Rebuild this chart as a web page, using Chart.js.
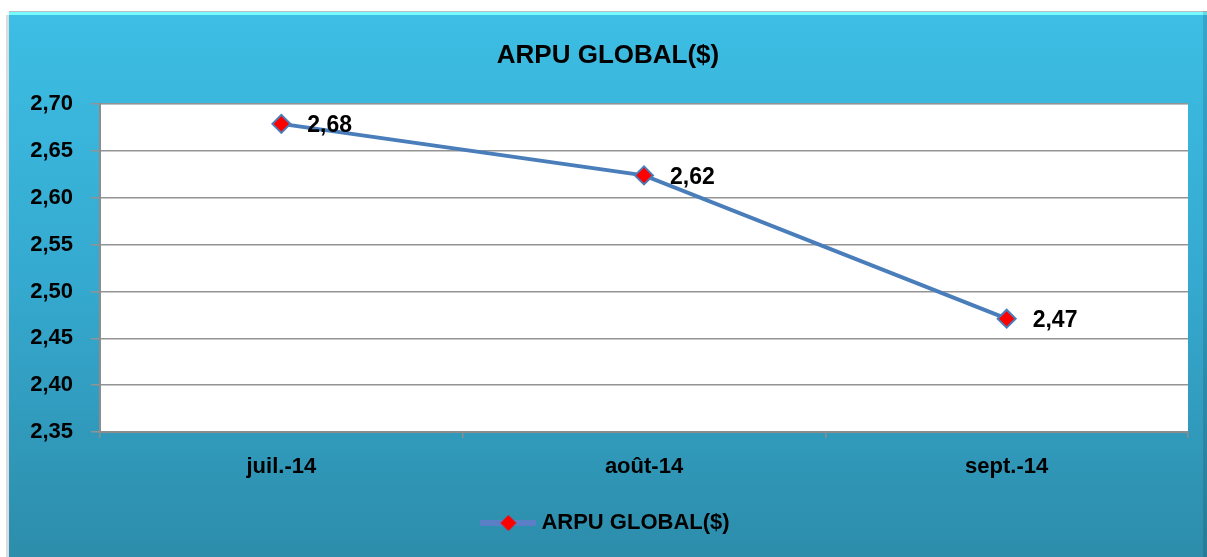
<!DOCTYPE html>
<html>
<head>
<meta charset="utf-8">
<script src="https://cdn.jsdelivr.net/npm/chart.js@4/dist/chart.umd.min.js"></script>
<style>
  html, body { margin: 0; padding: 0; background: #fff; }
  #wrap { width: 1207px; height: 557px; position: relative; }
</style>
</head>
<body>
<div id="wrap"><canvas id="arpuChart"></canvas></div>
<script>
// données
const months = ['juil.-14', 'août-14', 'sept.-14'];
const arpuValues = [2.679, 2.624, 2.471];
const yTicks = [2.35, 2.40, 2.45, 2.50, 2.55, 2.60, 2.65, 2.70];
const seriesName = 'ARPU GLOBAL($)';

const FONT = '"Liberation Sans", Arial, sans-serif';
const LINE_BLUE = '#4a7ebb';
const fmtComma = v => Number(v).toFixed(2).replace('.', ',');

// icône de légende : trait + losange rouge
const legendIcon = document.createElement('canvas');
legendIcon.width = 56; legendIcon.height = 20;
(function () {
    const c = legendIcon.getContext('2d');
    c.strokeStyle = '#5a7fc6'; c.lineWidth = 6;
    c.beginPath(); c.moveTo(0, 10); c.lineTo(56, 10); c.stroke();
    c.fillStyle = '#ff0000';
    c.beginPath(); c.moveTo(28, 2); c.lineTo(36, 10); c.lineTo(28, 18); c.lineTo(20, 10); c.closePath(); c.fill();
})();

// fond dégradé + zone de tracé blanche
const backdrop = {
    id: 'backdrop',
    beforeDraw(chart) {
        const { ctx, chartArea: a } = chart;
        const x0 = 9, y0 = 11, w = chart.width - x0, h = chart.height - y0;
        ctx.save();
        // petite ombre à gauche
        ctx.fillStyle = '#d9dde0';
        ctx.fillRect(x0 - 3, y0 + 4, 3, h);
        const g = ctx.createLinearGradient(0, y0, 0, chart.height);
        g.addColorStop(0, '#3dbee4');
        g.addColorStop(0.5, '#35a9cf');
        g.addColorStop(1, '#2d8dab');
        ctx.fillStyle = g;
        ctx.fillRect(x0, y0, w, h);
        // biseau clair en haut
        ctx.fillStyle = '#b8bcc0';
        ctx.fillRect(x0, y0, w, 1);
        ctx.fillStyle = '#78fbff';
        ctx.fillRect(x0, y0 + 1, w, 3);
        ctx.fillStyle = 'rgba(0,0,0,0.12)';
        ctx.fillRect(chart.width - 4, y0, 4, h);
        ctx.fillStyle = '#ffffff';
        ctx.fillRect(a.left, a.top, a.right - a.left, a.bottom - a.top);
        ctx.restore();
    }
};

// étiquettes de valeurs à droite des points
const valueLabels = {
    id: 'valueLabels',
    afterDatasetsDraw(chart) {
        const { ctx } = chart;
        const meta = chart.getDatasetMeta(0);
        ctx.save();
        ctx.font = 'bold 23px ' + FONT;
        ctx.fillStyle = '#000';
        ctx.textAlign = 'left';
        ctx.textBaseline = 'middle';
        meta.data.forEach((pt, i) => {
            ctx.fillText(fmtComma(arpuValues[i]), pt.x + 26, pt.y + 2);
        });
        ctx.restore();
    }
};

new Chart(document.getElementById('arpuChart'), {
    type: 'line',
    data: {
        labels: months,
        datasets: [{
            label: seriesName,
            data: arpuValues,
            borderColor: LINE_BLUE,
            borderWidth: 4,
            tension: 0,
            pointStyle: 'rectRot',
            pointRadius: 9,
            pointHoverRadius: 9,
            pointBackgroundColor: '#ff0000',
            pointBorderColor: LINE_BLUE,
            pointBorderWidth: 2
        }]
    },
    options: {
        responsive: true,
        maintainAspectRatio: false,
        animation: false,
        layout: { padding: { left: 9, top: 11, right: 0, bottom: 13 } },
        plugins: {
            title: {
                display: true,
                text: seriesName,
                color: '#000',
                font: { family: FONT, size: 26, weight: 'bold' },
                padding: { top: 29, bottom: 33 }
            },
            legend: {
                position: 'bottom',
                labels: {
                    color: '#000',
                    font: { family: FONT, size: 22, weight: 'bold' },
                    usePointStyle: true,
                    pointStyleWidth: 44,
                    padding: 10,
                    generateLabels(chart) {
                        return [{
                            text: seriesName,
                            pointStyle: legendIcon,
                            fillStyle: 'transparent',
                            strokeStyle: 'transparent',
                            lineWidth: 0,
                            fontColor: '#000',
                            datasetIndex: 0
                        }];
                    }
                }
            },
            tooltip: { enabled: false }
        },
        scales: {
            x: {
                offset: true,
                afterFit(scale) { scale.height = 70; },
                grid: {
                    offset: true,
                    drawOnChartArea: false,
                    drawTicks: true,
                    tickLength: 6,
                    color: '#8c8c8c',
                    lineWidth: 1.5
                },
                border: { color: '#8c8c8c', width: 2 },
                ticks: {
                    color: '#000',
                    padding: 16,
                    font: { family: FONT, size: 22, weight: 'bold' }
                }
            },
            y: {
                min: yTicks[0],
                max: yTicks[yTicks.length - 1],
                afterFit(scale) { scale.width = 91; },
                afterBuildTicks(scale) { scale.ticks = yTicks.map(v => ({ value: v })); },
                grid: {
                    color: '#939393',
                    lineWidth: 1.5,
                    tickLength: 9
                },
                border: { color: '#8c8c8c', width: 2 },
                ticks: {
                    color: '#000',
                    padding: 18,
                    font: { family: FONT, size: 22, weight: 'bold' },
                    callback: v => fmtComma(v)
                }
            },
            // marge droite (axe vide) pour centrer titre et légende sur tout le cadre
            yRight: {
                type: 'linear',
                position: 'right',
                afterFit(scale) { scale.width = 19; },
                grid: { display: false },
                border: { display: false },
                ticks: { display: false }
            }
        }
    },
    plugins: [backdrop, valueLabels]
});
</script>
</body>
</html>
